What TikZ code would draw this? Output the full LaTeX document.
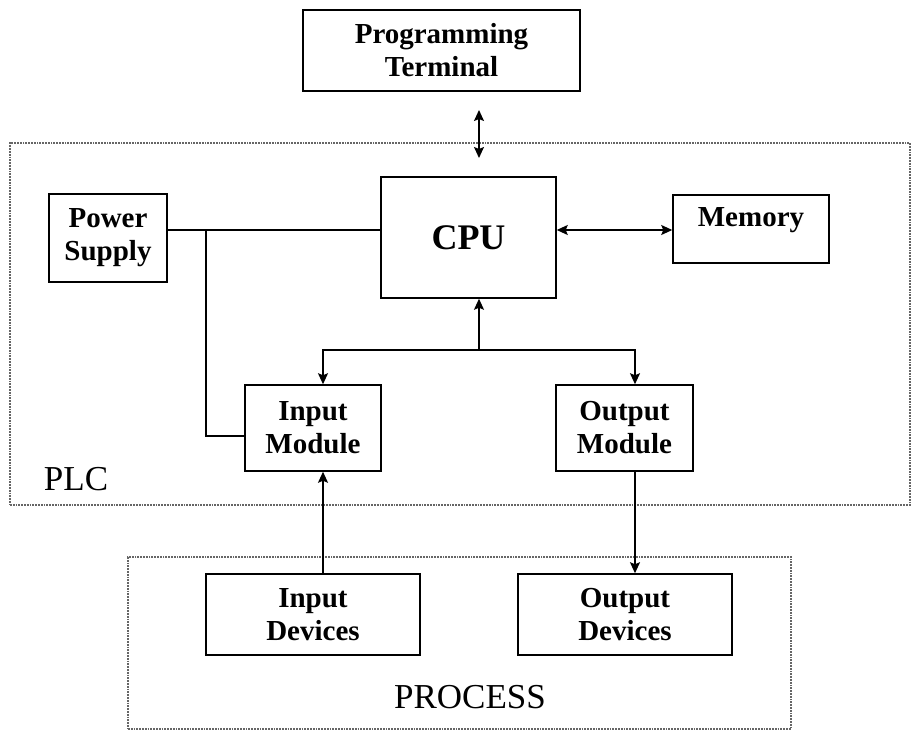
\documentclass[tikz,border=0pt]{standalone}
\usepackage{fontspec}
\setmainfont{Liberation Serif}
\usetikzlibrary{arrows.meta}

\begin{document}
\begin{tikzpicture}[x=1pt, y=-1pt, ->, >={Stealth[length=11pt, width=10pt, inset=2pt]},
                    line width=1.5pt]
    \tikzstyle{block}=[draw, rectangle, inner sep=0pt, align=center,
                       font=\fontsize{29}{33}\selectfont\bfseries]
    \tikzstyle{area}=[draw=black!60, densely dotted, line width=1.8pt]
    \tikzstyle{tag}=[font=\fontsize{35}{40}\selectfont]

    \useasboundingbox (0,0) rectangle (922,739);

    % dotted groups
    \node[area, minimum width=900pt, minimum height=362pt] (plc)     at (460,324)   {};
    \node[area, minimum width=663pt, minimum height=172pt] (process) at (459.5,643) {};
    \node[tag] (plctag)     at (76,479)  {PLC};
    \node[tag] (processtag) at (470,697) {PROCESS};

    % blocks
    \node[block, minimum width=277pt, minimum height=81pt]  (term)   at (441.5,50.5) {Programming\\Terminal};
    \node[block, minimum width=118pt, minimum height=88pt]  (ps)     at (108,238)    {Power\\Supply};
    \node[block, minimum width=175pt, minimum height=121pt,
          font=\fontsize{36}{40}\selectfont\bfseries]       (cpu)    at (468.5,237.5) {CPU};
    \node[block, minimum width=156pt, minimum height=68pt]  (mem)    at (751,229)    {Memory\\[-10pt]\mbox{}};
    \node[block, minimum width=136pt, minimum height=86pt]  (inmod)  at (313,428)    {Input\\Module};
    \node[block, minimum width=137pt, minimum height=86pt]  (outmod) at (624.5,428)  {Output\\Module};
    \node[block, minimum width=214pt, minimum height=81pt]  (indev)  at (313,614.5)  {Input\\Devices};
    \node[block, minimum width=214pt, minimum height=81pt]  (outdev) at (625,614.5)  {Output\\Devices};

    % junctions
    \coordinate (linktop) at (479,110);
    \coordinate (linkbot) at (479,158);
    \coordinate (pwr)     at (206,230);
    \coordinate (pwrlow)  at (206,436);
    \coordinate (bus)     at (479,350);
    \coordinate (busl)    at (323,350);
    \coordinate (busr)    at (635,350);

    \path (linktop) edge [<->] (linkbot);
    \draw[-] (ps.east |- pwr) -- (pwr) -- (cpu.west |- pwr);
    \draw[-] (pwr) -- (pwrlow) -- (inmod.west |- pwrlow);
    \draw[<->] (cpu.east |- pwr) -- (mem.west |- pwr);
    \draw[->] (bus) -- (bus |- cpu.south);
    \draw[->] (bus) -- (busl) -- (busl |- inmod.north);
    \draw[->] (bus) -- (busr) -- (busr |- outmod.north);
    \draw[->] (busl |- indev.north) -- (busl |- inmod.south);
    \draw[->] (busr |- outmod.south) -- (busr |- outdev.north);
\end{tikzpicture}
\end{document}
